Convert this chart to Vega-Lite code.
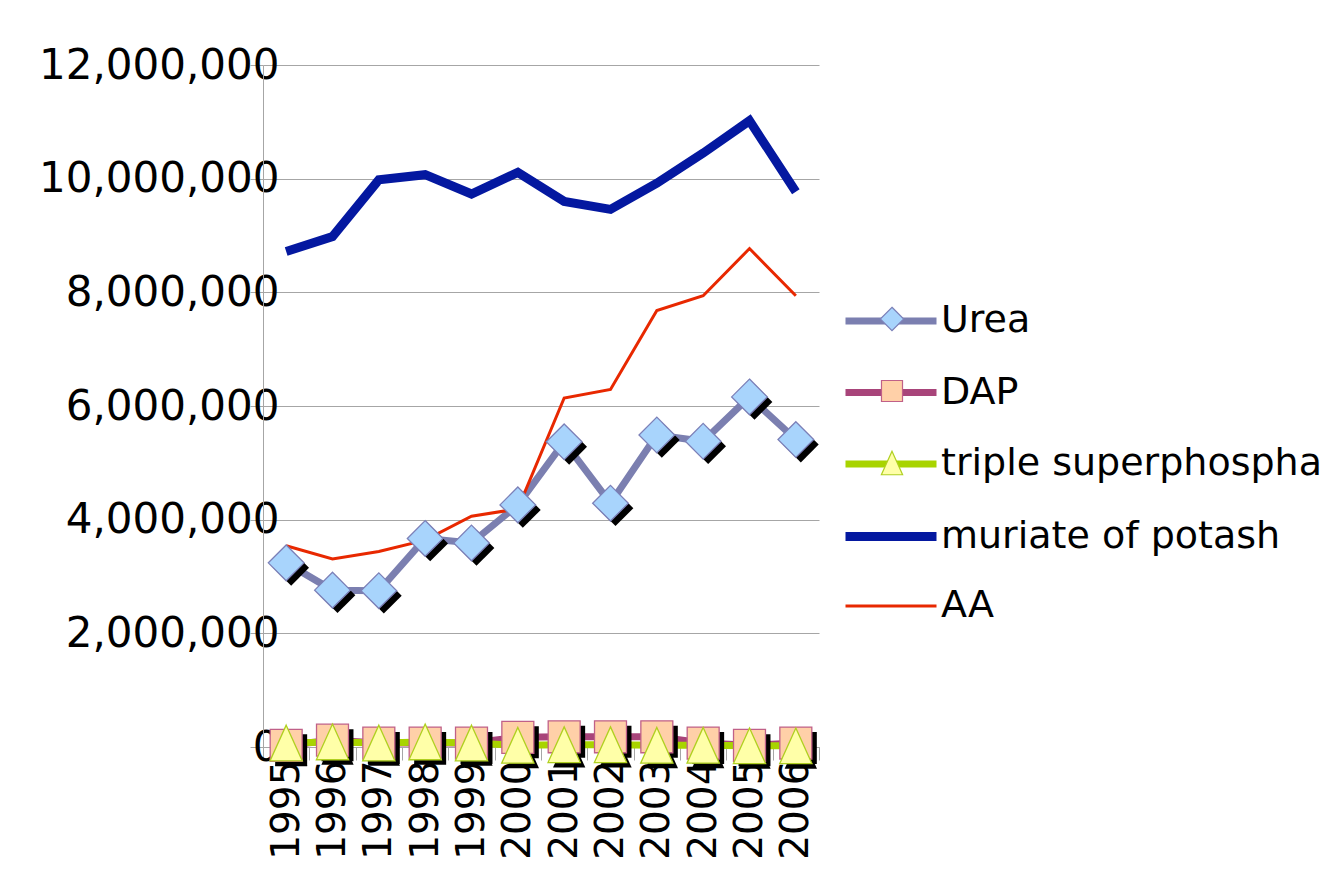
{
  "$schema": "https://vega.github.io/schema/vega-lite/v6.json",
  "autosize": {"type": "none"},
  "padding": {"left": 263, "top": 65, "right": 502, "bottom": 149},
  "width": 556,
  "height": 682,
  "background": "white",
  "config": {
    "font": "DejaVu Sans",
    "view": {"stroke": null}
  },
  "data": {
    "values": [
      {"year": "1995", "series": "Urea", "value": 3240000},
      {"year": "1996", "series": "Urea", "value": 2760000},
      {"year": "1997", "series": "Urea", "value": 2750000},
      {"year": "1998", "series": "Urea", "value": 3670000},
      {"year": "1999", "series": "Urea", "value": 3590000},
      {"year": "2000", "series": "Urea", "value": 4260000},
      {"year": "2001", "series": "Urea", "value": 5370000},
      {"year": "2002", "series": "Urea", "value": 4290000},
      {"year": "2003", "series": "Urea", "value": 5490000},
      {"year": "2004", "series": "Urea", "value": 5380000},
      {"year": "2005", "series": "Urea", "value": 6160000},
      {"year": "2006", "series": "Urea", "value": 5410000},
      {"year": "1995", "series": "DAP", "value": 30000},
      {"year": "1996", "series": "DAP", "value": 120000},
      {"year": "1997", "series": "DAP", "value": 70000},
      {"year": "1998", "series": "DAP", "value": 70000},
      {"year": "1999", "series": "DAP", "value": 70000},
      {"year": "2000", "series": "DAP", "value": 170000},
      {"year": "2001", "series": "DAP", "value": 180000},
      {"year": "2002", "series": "DAP", "value": 180000},
      {"year": "2003", "series": "DAP", "value": 180000},
      {"year": "2004", "series": "DAP", "value": 70000},
      {"year": "2005", "series": "DAP", "value": 30000},
      {"year": "2006", "series": "DAP", "value": 70000},
      {"year": "1995", "series": "triple superphosphate", "value": 70000},
      {"year": "1996", "series": "triple superphosphate", "value": 90000},
      {"year": "1997", "series": "triple superphosphate", "value": 70000},
      {"year": "1998", "series": "triple superphosphate", "value": 90000},
      {"year": "1999", "series": "triple superphosphate", "value": 70000},
      {"year": "2000", "series": "triple superphosphate", "value": 30000},
      {"year": "2001", "series": "triple superphosphate", "value": 40000},
      {"year": "2002", "series": "triple superphosphate", "value": 40000},
      {"year": "2003", "series": "triple superphosphate", "value": 30000},
      {"year": "2004", "series": "triple superphosphate", "value": 30000},
      {"year": "2005", "series": "triple superphosphate", "value": 20000},
      {"year": "2006", "series": "triple superphosphate", "value": 20000},
      {"year": "1995", "series": "muriate of potash", "value": 8720000},
      {"year": "1996", "series": "muriate of potash", "value": 8980000},
      {"year": "1997", "series": "muriate of potash", "value": 9980000},
      {"year": "1998", "series": "muriate of potash", "value": 10070000},
      {"year": "1999", "series": "muriate of potash", "value": 9730000},
      {"year": "2000", "series": "muriate of potash", "value": 10110000},
      {"year": "2001", "series": "muriate of potash", "value": 9600000},
      {"year": "2002", "series": "muriate of potash", "value": 9460000},
      {"year": "2003", "series": "muriate of potash", "value": 9920000},
      {"year": "2004", "series": "muriate of potash", "value": 10450000},
      {"year": "2005", "series": "muriate of potash", "value": 11020000},
      {"year": "2006", "series": "muriate of potash", "value": 9770000},
      {"year": "1995", "series": "AA", "value": 3540000},
      {"year": "1996", "series": "AA", "value": 3310000},
      {"year": "1997", "series": "AA", "value": 3440000},
      {"year": "1998", "series": "AA", "value": 3640000},
      {"year": "1999", "series": "AA", "value": 4060000},
      {"year": "2000", "series": "AA", "value": 4190000},
      {"year": "2001", "series": "AA", "value": 6140000},
      {"year": "2002", "series": "AA", "value": 6290000},
      {"year": "2003", "series": "AA", "value": 7680000},
      {"year": "2004", "series": "AA", "value": 7940000},
      {"year": "2005", "series": "AA", "value": 8770000},
      {"year": "2006", "series": "AA", "value": 7940000}
    ]
  },
  "encoding": {
    "x": {
      "field": "year",
      "type": "ordinal",
      "sort": null,
      "scale": {"type": "band", "paddingInner": 0, "paddingOuter": 0},
      "axis": {
        "title": null,
        "labelAngle": 270,
        "labelAlign": "right",
        "labelBaseline": "middle",
        "labelFontSize": 39,
        "labelColor": "black",
        "labelPadding": 0,
        "labelOverlap": false,
        "tickBand": "extent",
        "tickSize": 13,
        "tickColor": "#a6a6a6",
        "domainColor": "#a6a6a6",
        "grid": false
      }
    },
    "y": {
      "field": "value",
      "type": "quantitative",
      "scale": {"domain": [0, 12000000], "nice": false, "zero": true},
      "axis": {
        "title": null,
        "values": [0, 2000000, 4000000, 6000000, 8000000, 10000000, 12000000],
        "format": ",.0f",
        "labelFontSize": 42,
        "labelColor": "black",
        "labelFlush": false,
        "labelOverlap": false,
        "labelLimit": 1000,
        "tickSize": 13,
        "tickColor": "#a6a6a6",
        "labelPadding": -29,
        "domainColor": "#a6a6a6",
        "gridColor": "#a6a6a6"
      }
    }
  },
  "layer": [
    {
      "mark": {"type": "line", "strokeJoin": "miter", "strokeCap": "butt"},
      "encoding": {
        "stroke": {
          "field": "series",
          "type": "nominal",
          "scale": {
            "domain": ["Urea", "DAP", "triple superphosphate", "muriate of potash", "AA"],
            "range": ["#7b7fb0", "#a8447a", "#a8d400", "#0418a0", "#e82800"]
          },
          "legend": {
            "orient": "none", "legendX": 578, "legendY": 207, "title": null,
            "labelFontSize": 38, "labelColor": "black", "labelLimit": 2000, "symbolType": "stroke",
            "symbolSize": 8281, "labelOffset": 0, "rowPadding": 3.5, "padding": 0
          }
        },
        "strokeWidth": {
          "field": "series",
          "type": "nominal",
          "scale": {
            "type": "ordinal",
            "domain": ["Urea", "DAP", "triple superphosphate", "muriate of potash", "AA"],
            "range": [7, 7, 7, 9, 3]
          },
          "legend": {
            "orient": "none", "legendX": 578, "legendY": 207, "title": null,
            "labelFontSize": 38, "labelColor": "black", "labelLimit": 2000, "symbolType": "stroke",
            "symbolSize": 8281, "labelOffset": 0, "rowPadding": 3.5, "padding": 0
          }
        }
      }
    },
    {
      "transform": [{"filter": {"field": "series", "oneOf": ["Urea", "DAP", "triple superphosphate"]}}],
      "mark": {"type": "point", "filled": true, "fill": "black", "opacity": 1, "strokeWidth": 0, "size": 1156, "xOffset": 5, "yOffset": 5},
      "encoding": {
        "shape": {
          "field": "series",
          "type": "nominal",
          "scale": {
            "domain": ["Urea", "DAP", "triple superphosphate"],
            "range": ["M0,-1.05L1.05,0L0,1.05L-1.05,0Z", "M-0.94,-0.94L0.94,-0.94L0.94,0.94L-0.94,0.94Z", "M0,-1.05L0.95,1.05L-0.95,1.05Z"]
          },
          "legend": null
        }
      }
    },
    {
      "transform": [{"filter": {"field": "series", "oneOf": ["Urea", "DAP", "triple superphosphate"]}}],
      "mark": {"type": "point", "filled": true, "opacity": 1, "strokeWidth": 1.3, "size": 1156},
      "encoding": {
        "shape": {
          "field": "series",
          "type": "nominal",
          "scale": {
            "domain": ["Urea", "DAP", "triple superphosphate"],
            "range": ["M0,-1.05L1.05,0L0,1.05L-1.05,0Z", "M-0.94,-0.94L0.94,-0.94L0.94,0.94L-0.94,0.94Z", "M0,-1.05L0.95,1.05L-0.95,1.05Z"]
          },
          "legend": {
            "orient": "none", "legendX": 610, "legendY": 235, "title": null,
            "labelFontSize": 38, "labelExpr": "''", "symbolSize": 500,
            "symbolStrokeWidth": 1.2, "rowPadding": 34, "padding": 0
          }
        },
        "fill": {
          "field": "series",
          "type": "nominal",
          "scale": {
            "domain": ["Urea", "DAP", "triple superphosphate"],
            "range": ["#a8d4fc", "#ffd0a8", "#ffffa8"]
          },
          "legend": {
            "orient": "none", "legendX": 610, "legendY": 235, "title": null,
            "labelFontSize": 38, "labelExpr": "''", "symbolSize": 500,
            "symbolStrokeWidth": 1.2, "rowPadding": 34, "padding": 0
          }
        },
        "stroke": {
          "field": "series",
          "type": "nominal",
          "scale": {
            "domain": ["Urea", "DAP", "triple superphosphate"],
            "range": ["#7c80b8", "#c06088", "#b0d020"]
          },
          "legend": {
            "orient": "none", "legendX": 610, "legendY": 235, "title": null,
            "labelFontSize": 38, "labelExpr": "''", "symbolSize": 500,
            "symbolStrokeWidth": 1.2, "rowPadding": 34, "padding": 0
          }
        }
      }
    }
  ],
  "resolve": {
    "scale": {"stroke": "independent", "strokeWidth": "independent", "fill": "independent", "shape": "independent"}
  }
}
